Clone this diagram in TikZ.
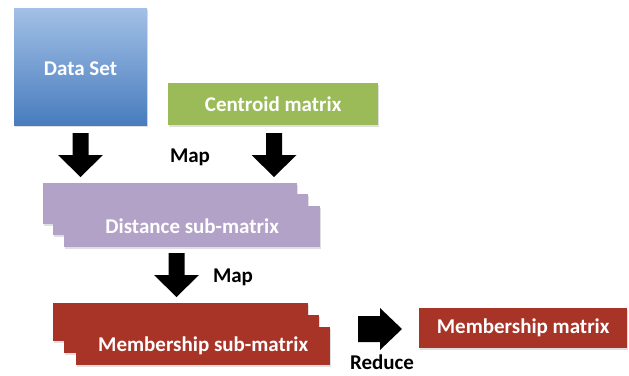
\documentclass[tikz,border=0pt]{standalone}
\usepackage{fontspec}
\setmainfont{Carlito}
\usetikzlibrary{shadows}
\definecolor{dsTop}{RGB}{163,192,230}
\definecolor{dsBot}{RGB}{72,124,190}
\definecolor{cGreen}{RGB}{155,187,89}
\definecolor{cLilac}{RGB}{179,162,199}
\definecolor{cRed}{RGB}{168,52,40}
\begin{document}
\begin{tikzpicture}[x=1pt,y=-1pt,
  font=\bfseries\fontsize{21}{25}\selectfont,
  box/.style={rectangle, anchor=north west, inner sep=0pt, text=white,
    drop shadow={shadow xshift=1pt, shadow yshift=-1.5pt, opacity=0.25}},
  lbl/.style={text=black, inner sep=0pt},
  downarrow/.pic={\fill[black] (-8,0) -- (8,0) -- (8,22) -- (22.5,22) -- (0,44) -- (-22.5,22) -- (-8,22) -- cycle;},
  rightarrow/.pic={\fill[black] (0,-13) -- (22,-13) -- (22,-21) -- (44,0) -- (22,21) -- (22,13) -- (0,13) -- cycle;}
]
\useasboundingbox (0,0) rectangle (629,375);
% Data set
\node[box, top color=dsTop, bottom color=dsBot, minimum width=133pt, minimum height=117pt] (ds) at (14,8) {};
\node[text=white] (dsl) at (80.5,69) {Data Set};
% Centroid
\node[box, fill=cGreen, minimum width=210pt, minimum height=42pt] (cm) at (168,83) {Centroid matrix};
% arrows map
\pic (a1) at (80.5,133) {downarrow};
\pic (a2) at (274,133) {downarrow};
\node[lbl] (map1) at (190,157) {Map};
% Distance stack
\node[box, fill=cLilac, minimum width=254pt, minimum height=41pt] (d1) at (43,183) {};
\node[box, fill=cLilac, minimum width=255pt, minimum height=41pt] (d2) at (53,194) {};
\node[box, fill=cLilac, minimum width=256pt, minimum height=41pt] (d3) at (64,206) {Distance sub-matrix};
% map 2
\pic (a3) at (176.5,253) {downarrow};
\node[lbl] (map2) at (233,277) {Map};
% Membership stack
\node[box, fill=cRed, minimum width=255pt, minimum height=38pt] (m1) at (53,303) {};
\node[box, fill=cRed, minimum width=255pt, minimum height=38pt] (m2) at (64,315) {};
\node[box, fill=cRed, minimum width=254pt, minimum height=38pt] (m3) at (76,327) {Membership sub-matrix};
% reduce
\pic (a4) at (358,329) {rightarrow};
\node[lbl] (red) at (382,362) {Reduce};
\node[box, fill=cRed, minimum width=208pt, minimum height=40pt] (mm) at (419,308) {Membership matrix};
\end{tikzpicture}
\end{document}
